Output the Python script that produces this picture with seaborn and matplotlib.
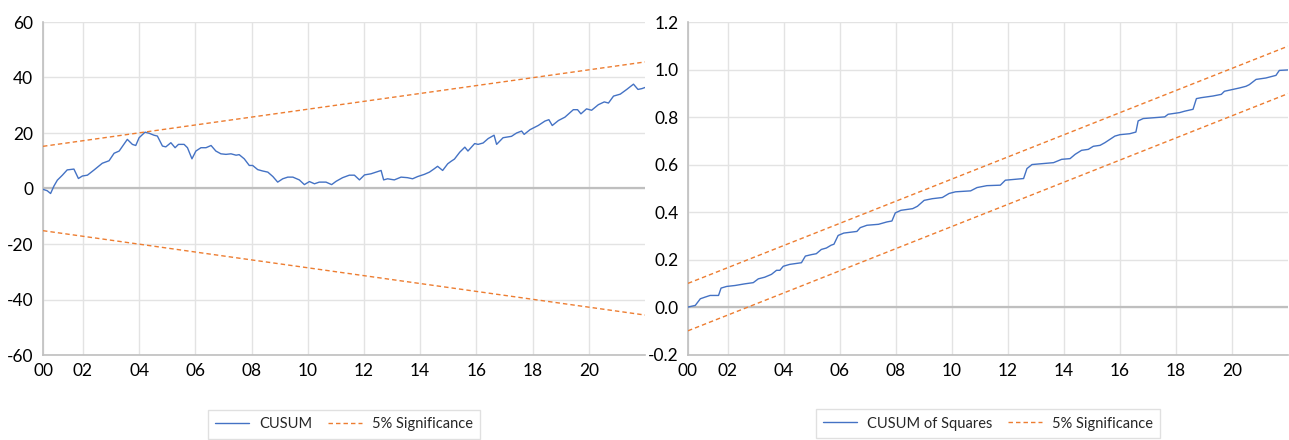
import matplotlib
matplotlib.use("Agg")
import matplotlib.pyplot as plt
import seaborn as sns
import pandas as pd

# CUSUM statistic (time in decimal years)
cusum_t = [2000.58, 2000.73, 2000.85, 2000.97, 2001.09, 2001.27, 2001.44, 2001.68, 2001.84, 2001.98,
           2002.16, 2002.40, 2002.69, 2002.93, 2003.11, 2003.29, 2003.58, 2003.76, 2003.88, 2004.00,
           2004.21, 2004.36, 2004.53, 2004.65, 2004.83, 2004.95, 2005.13, 2005.28, 2005.40, 2005.60,
           2005.72, 2005.88, 2006.02, 2006.20, 2006.38, 2006.56, 2006.73, 2006.91, 2007.09, 2007.27,
           2007.45, 2007.56, 2007.74, 2007.92, 2008.04, 2008.22, 2008.40, 2008.58, 2008.76, 2008.93,
           2009.11, 2009.29, 2009.47, 2009.70, 2009.88, 2010.06, 2010.24, 2010.41, 2010.65, 2010.85,
           2011.01, 2011.24, 2011.48, 2011.66, 2011.84, 2012.02, 2012.25, 2012.43, 2012.61, 2012.70,
           2012.84, 2013.08, 2013.32, 2013.55, 2013.73, 2013.91, 2014.15, 2014.33, 2014.50, 2014.62,
           2014.80, 2014.98, 2015.10, 2015.22, 2015.41, 2015.59, 2015.70, 2015.94, 2016.06, 2016.24,
           2016.42, 2016.63, 2016.72, 2016.95, 2017.25, 2017.43, 2017.61, 2017.70, 2017.91, 2018.20,
           2018.44, 2018.58, 2018.70, 2018.92, 2019.15, 2019.45, 2019.60, 2019.72, 2019.92, 2020.10,
           2020.34, 2020.55, 2020.70, 2020.88, 2021.12, 2021.35, 2021.59, 2021.75, 2021.89, 2022.00]
cusum_v = [-0.3, -0.8, -1.8, 0.9, 3.0, 4.8, 6.7, 7.0, 3.6, 4.5,
           4.8, 6.7, 9.1, 10.0, 12.7, 13.5, 17.7, 15.9, 15.5, 18.3,
           20.3, 19.9, 19.2, 18.9, 15.3, 15.0, 16.5, 14.7, 15.9, 15.9,
           14.7, 10.7, 13.5, 14.7, 14.7, 15.5, 13.5, 12.5, 12.3, 12.5,
           12.0, 12.2, 10.7, 8.3, 8.3, 6.8, 6.3, 5.9, 4.3, 2.3,
           3.5, 4.1, 4.1, 3.1, 1.4, 2.5, 1.7, 2.3, 2.3, 1.4,
           2.6, 3.9, 4.8, 4.8, 3.1, 4.9, 5.3, 5.9, 6.5, 3.1,
           3.5, 3.1, 4.1, 3.9, 3.5, 4.3, 5.1, 5.9, 7.1, 8.0,
           6.5, 8.9, 9.8, 10.6, 13.1, 14.9, 13.5, 16.2, 15.9, 16.4,
           18.0, 19.2, 15.9, 18.3, 18.8, 20.0, 20.7, 19.5, 21.2, 22.7,
           24.3, 24.8, 22.7, 24.5, 25.7, 28.4, 28.4, 26.9, 28.7, 28.2,
           30.2, 31.2, 30.8, 33.3, 34.0, 35.7, 37.6, 35.7, 36.0, 36.4]

# 5% significance bounds for CUSUM (straight lines between sample ends)
cusum_band_t = [2000.58, 2022.00]
cusum_upper = [15.2, 45.6]
cusum_lower = [-15.2, -45.6]

# CUSUM of squares statistic
cusumsq_t = [2000.58, 2000.84, 2001.02, 2001.19, 2001.37, 2001.67, 2001.76, 2001.96, 2002.26, 2002.61,
             2002.91, 2003.09, 2003.32, 2003.56, 2003.74, 2003.86, 2003.98, 2004.21, 2004.63, 2004.77,
             2004.98, 2005.16, 2005.34, 2005.52, 2005.69, 2005.79, 2005.94, 2006.14, 2006.61, 2006.73,
             2006.97, 2007.38, 2007.68, 2007.86, 2007.98, 2008.18, 2008.60, 2008.77, 2009.01, 2009.30,
             2009.66, 2009.90, 2010.13, 2010.67, 2010.90, 2011.25, 2011.73, 2011.91, 2012.56, 2012.68,
             2012.86, 2013.63, 2013.92, 2014.22, 2014.40, 2014.63, 2014.87, 2015.05, 2015.29, 2015.46,
             2015.64, 2015.82, 2016.00, 2016.35, 2016.57, 2016.65, 2016.83, 2017.60, 2017.72, 2018.13,
             2018.31, 2018.61, 2018.73, 2018.90, 2019.32, 2019.62, 2019.73, 2020.27, 2020.50, 2020.62,
             2020.86, 2021.21, 2021.57, 2021.69, 2022.00]
cusumsq_v = [0.000, 0.007, 0.035, 0.042, 0.049, 0.049, 0.080, 0.087, 0.091, 0.098,
             0.103, 0.119, 0.126, 0.138, 0.155, 0.155, 0.172, 0.180, 0.187, 0.215,
             0.221, 0.225, 0.243, 0.249, 0.261, 0.265, 0.302, 0.312, 0.319, 0.335,
             0.345, 0.349, 0.359, 0.363, 0.397, 0.408, 0.415, 0.425, 0.450, 0.457,
             0.462, 0.479, 0.486, 0.490, 0.504, 0.512, 0.514, 0.535, 0.542, 0.584,
             0.601, 0.609, 0.623, 0.626, 0.644, 0.661, 0.665, 0.678, 0.682, 0.693,
             0.707, 0.721, 0.727, 0.731, 0.738, 0.785, 0.795, 0.802, 0.813, 0.820,
             0.826, 0.834, 0.879, 0.883, 0.890, 0.897, 0.910, 0.924, 0.931, 0.938,
             0.960, 0.966, 0.977, 0.998, 1.000]

# 5% significance bounds for CUSUM of squares
sq_band_t = [2000.58, 2022.00]
sq_upper = [0.1, 1.1]
sq_lower = [-0.1, 0.9]

# Axis ticks
x_ticks = [2000.58, 2002, 2004, 2006, 2008, 2010, 2012, 2014, 2016, 2018, 2020]
x_labels = ["00", "02", "04", "06", "08", "10", "12", "14", "16", "18", "20"]
left_yticks = [-60, -40, -20, 0, 20, 40, 60]
right_yticks = [-0.2, 0.0, 0.2, 0.4, 0.6, 0.8, 1.0, 1.2]

BLUE = "#4472C4"
ORANGE = "#ED7D31"
GRID = "#E3E3E3"
AXIS = "#BFBFBF"

sns.set_style("white")
plt.rcParams["font.family"] = ["Lato", "DejaVu Sans"]
plt.rcParams["axes.unicode_minus"] = False

fig = plt.figure(figsize=(12.89, 4.40), dpi=100)
ax1 = fig.add_axes([43 / 1289, 1 - 355 / 440, (645 - 43) / 1289, (355 - 22) / 440])
ax2 = fig.add_axes([688 / 1289, 1 - 354.5 / 440, (1288 - 688) / 1289, (354.5 - 22.5) / 440])

dash = (0, (3.2, 2.2))


def style_axes(ax, yticks, ylim, fmt):
    ax.set_xlim(2000.58, 2022.0)
    ax.set_ylim(*ylim)
    ax.set_xticks(x_ticks)
    ax.set_xticklabels(x_labels)
    ax.set_yticks(yticks)
    ax.set_yticklabels([fmt(v) for v in yticks])
    ax.grid(True, color=GRID, linewidth=1.0)
    ax.set_axisbelow(True)
    ax.axhline(0, color=AXIS, linewidth=1.6, zorder=1)
    for side in ("top", "right"):
        ax.spines[side].set_visible(False)
    for side in ("left", "bottom"):
        ax.spines[side].set_color(AXIS)
        ax.spines[side].set_linewidth(1.2)
    ax.tick_params(axis="both", length=0, labelsize=12.5, colors="#000000")
    ax.tick_params(axis="y", pad=7)
    ax.tick_params(axis="x", pad=6)
    ax.set_xlabel("")
    ax.set_ylabel("")


# Left: CUSUM
sns.lineplot(x=cusum_t, y=cusum_v, ax=ax1, color=BLUE, linewidth=1.0, label="CUSUM", zorder=3)
sns.lineplot(x=cusum_band_t, y=cusum_upper, ax=ax1, color=ORANGE, linewidth=1.0,
             linestyle=dash, label="5% Significance", zorder=3)
sns.lineplot(x=cusum_band_t, y=cusum_lower, ax=ax1, color=ORANGE, linewidth=1.0,
             linestyle=dash, zorder=3)
style_axes(ax1, left_yticks, (-60, 60), lambda v: f"{v:d}")

# Right: CUSUM of squares
sns.lineplot(x=cusumsq_t, y=cusumsq_v, ax=ax2, color=BLUE, linewidth=1.0,
             label="CUSUM of Squares", zorder=3)
sns.lineplot(x=sq_band_t, y=sq_upper, ax=ax2, color=ORANGE, linewidth=1.0,
             linestyle=dash, label="5% Significance", zorder=3)
sns.lineplot(x=sq_band_t, y=sq_lower, ax=ax2, color=ORANGE, linewidth=1.0,
             linestyle=dash, zorder=3)
style_axes(ax2, right_yticks, (-0.2, 1.2), lambda v: f"{v:.1f}")

for ax in (ax1, ax2):
    leg = ax.legend(loc="center", bbox_to_anchor=(0.5, -0.208), ncol=2, fontsize=10.5,
                    frameon=True, fancybox=False, edgecolor="#D9D9D9",
                    handlelength=2.3, columnspacing=1.1, handletextpad=0.7,
                    borderpad=0.5)
    leg.get_frame().set_linewidth(1.0)

fig.savefig("out.png", dpi=100)
